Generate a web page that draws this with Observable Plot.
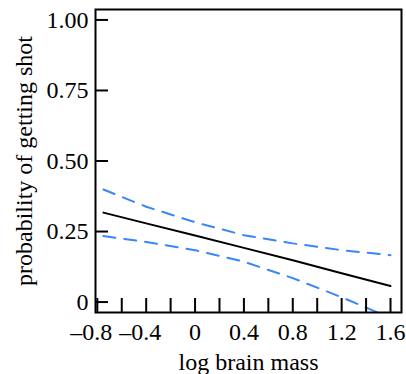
<!DOCTYPE html>
<html><head><meta charset="utf-8">
<script src="https://cdn.jsdelivr.net/npm/d3@7"></script>
<script src="https://cdn.jsdelivr.net/npm/@observablehq/plot@0.6"></script>
<style>body{margin:0;background:#fff}</style>
</head><body><div id="chart"></div>
<script>
// log brain mass sample points
const xVals = [-0.75, -0.4, 0, 0.4, 0.8, 1.2, 1.6];
// fitted probability of getting shot
const fitP = [0.317, 0.279, 0.236, 0.192, 0.148, 0.102, 0.057];
// confidence band
const upperP = [0.399, 0.338, 0.283, 0.237, 0.208, 0.184, 0.166];
const lowerP = [0.234, 0.213, 0.184, 0.143, 0.085, 0.017, -0.056];

const yTicks = [0, 0.25, 0.5, 0.75, 1];
const yTickLabels = ["0", "0.25", "0.50", "0.75", "1.00"];
const xMinorTicks = [-0.8, -0.6, -0.4, -0.2, 0, 0.2, 0.4, 0.6, 0.8, 1.0, 1.2, 1.4, 1.6];
const xNegLabels = [-0.8, -0.4];
const xPosLabels = [0, 0.4, 0.8, 1.2, 1.6];
const xNegText = ["\u20130.8", "\u20130.4"];
const xPosText = ["0", "0.4", "0.8", "1.2", "1.6"];

const rows = xVals.map((x, i) => ({x, fit: fitP[i], upper: upperP[i], lower: lowerP[i]}));
const blue = "#3a86f5";
const serif = "'Liberation Serif', 'Times New Roman', 'DejaVu Serif', serif";
const fs = 24;

const chart = Plot.plot({
  width: 406, height: 374,
  marginLeft: 95, marginTop: 9, marginRight: 5, marginBottom: 62,
  style: {fontFamily: serif, fontSize: fs + "px", color: "#000", background: "#fff"},
  x: {domain: [-0.815, 1.69]},
  y: {domain: [-0.037, 1.037]},
  marks: [
    Plot.lineY(rows, {x: "x", y: "upper", stroke: blue, strokeWidth: 2, strokeDasharray: "12,9", clip: true}),
    Plot.lineY(rows, {x: "x", y: "lower", stroke: blue, strokeWidth: 2, strokeDasharray: "12,9", clip: true}),
    Plot.lineY(rows, {x: "x", y: "fit", stroke: "#000", strokeWidth: 2, clip: true}),
    Plot.axisY(yTicks, {tickSize: -13, strokeWidth: 2, tickFormat: () => "", label: null}),
    Plot.axisY(yTicks, {tickSize: 0, tickPadding: 7, tickFormat: d => yTickLabels[yTicks.indexOf(d)], fontFamily: serif, fontSize: fs,
      label: "probability of getting shot", labelAnchor: "center", labelArrow: "none", labelOffset: 81}),
    Plot.axisX(xMinorTicks, {tickSize: -14, strokeWidth: 2, tickFormat: () => "", label: null}),
    Plot.axisX(xPosLabels, {tickSize: 0, tickPadding: 10, tickFormat: d => xPosText[xPosLabels.indexOf(d)], fontFamily: serif, fontSize: fs,
      label: "log brain mass", labelAnchor: "center", labelArrow: "none", labelOffset: 57}),
    Plot.axisX(xNegLabels, {tickSize: 0, tickPadding: 10, tickFormat: d => xNegText[xNegLabels.indexOf(d)], fontFamily: serif, fontSize: fs, label: null, dx: -6}),
    Plot.frame({stroke: "#000", strokeWidth: 2})
  ]
});
document.getElementById("chart").append(chart);
</script>
</body></html>
